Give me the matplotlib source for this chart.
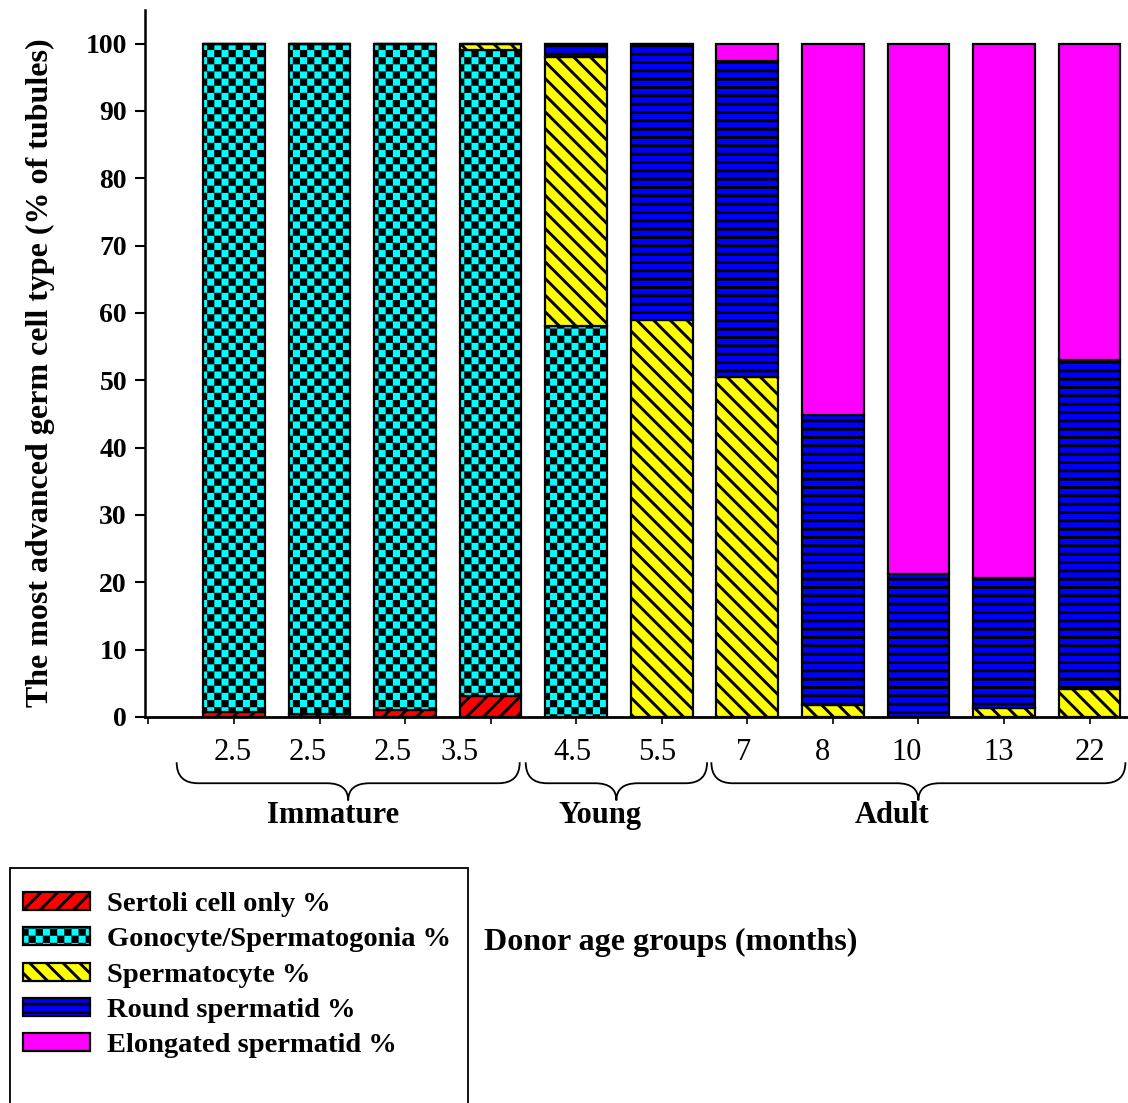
import warnings

import matplotlib
matplotlib.use("Agg")
import matplotlib.pyplot as plt
import numpy as np
from matplotlib import hatch as mhatch
from matplotlib.patches import PathPatch, Rectangle
from matplotlib.path import Path

warnings.filterwarnings("ignore")

# ---- data ----
ages = ["2.5", "2.5", "2.5", "3.5", "4.5", "5.5", "7", "8", "10", "13", "22"]
sertoli = [0.8, 0.5, 1.1, 3.1, 0, 0, 0, 0, 0, 0, 0]
gonocyte = [99.2, 99.5, 98.9, 96.0, 58.0, 0, 0, 0, 0, 0, 0]
spermatocyte = [0, 0, 0, 0.9, 40.0, 59.0, 50.5, 1.8, 0, 1.4, 4.1]
round_spermatid = [0, 0, 0, 0, 2.0, 41.0, 47.0, 43.1, 21.2, 19.3, 48.9]
elongated = [0, 0, 0, 0, 0, 0, 2.5, 55.1, 78.8, 79.3, 47.0]

series_names = ["Sertoli cell only %", "Gonocyte/Spermatogonia %",
                "Spermatocyte %", "Round spermatid %", "Elongated spermatid %"]
groups = ["Immature", "Young", "Adult"]


# checkerboard hatch, matplotlib has none built in
class CheckerHatch(mhatch.HatchPatternBase):
    def __init__(self, hatch, density):
        self.n = hatch.count("#") * 14
        self.num_vertices = (self.n * self.n // 2) * 5 if self.n else 0

    def set_vertices_and_codes(self, vertices, codes):
        s = 1.0 / self.n
        inset = 0.014
        k = 0
        for i in range(self.n):
            for j in range(self.n):
                if (i + j) % 2:
                    continue
                x0, y0 = i * s + inset, j * s + inset
                x1, y1 = (i + 1) * s - inset, (j + 1) * s - inset
                vertices[k:k + 5] = [(x0, y0), (x1, y0), (x1, y1), (x0, y1), (x0, y0)]
                codes[k:k + 5] = [Path.MOVETO, Path.LINETO, Path.LINETO,
                                  Path.LINETO, Path.CLOSEPOLY]
                k += 5


mhatch._hatch_types.append(CheckerHatch)

plt.rcParams["font.family"] = ["Liberation Serif", "DejaVu Serif"]
plt.rcParams["hatch.linewidth"] = 2.1

fig = plt.figure(figsize=(11.28, 11.03), dpi=100)
W, H = 1128, 1103
ax = fig.add_axes([145 / W, 1 - 717 / H, 1 - 145 / W, (717 - 10) / H])

x = np.arange(1, len(ages) + 1)
layers = [sertoli, gonocyte, spermatocyte, round_spermatid, elongated]
colors = ["#FF0000", "#00FFFF", "#FFFF00", "#0000FF", "#FF00FF"]
hatches = ["//", "#", "\\\\", "--", ""]

bottom = np.zeros(len(ages))
handles = []
for vals, col, hat, name in zip(layers, colors, hatches, series_names):
    bars = ax.bar(x, vals, 0.72, bottom=bottom, color=col, edgecolor="black",
                  linewidth=1.6, hatch=hat, label=name)
    handles.append(bars)
    bottom += np.array(vals)

ax.set_xlim(-0.04, 11.45)
ax.set_ylim(0, 105)
ax.set_yticks(np.arange(0, 101, 10))
ax.set_xticks(np.arange(0, 12))
ax.set_xticklabels([])
for side in ["top", "right"]:
    ax.spines[side].set_visible(False)
ax.spines["left"].set_linewidth(1.8)
ax.spines["bottom"].set_linewidth(2.0)
ax.tick_params(axis="y", length=7, width=1.5, pad=6, labelsize=20)
ax.tick_params(axis="x", length=5, width=1.2)
for lab in ax.get_yticklabels():
    lab.set_fontweight("bold")

# age labels under the bars
label_shift = [-0.02, -0.14, -0.14, -0.36, -0.04, -0.05, -0.04, -0.12, -0.14, -0.06, 0.01]
for xi, age, dx in zip(x, ages, label_shift):
    ax.text(xi + dx, -0.05, age, transform=ax.get_xaxis_transform(),
            ha="center", va="center", fontsize=22)


def brace(x0, x1, y_top, y_tip, r=0.25):
    xm = (x0 + x1) / 2
    yf = y_top + (y_tip - y_top) * 0.55
    verts = [(x0, y_top), (x0, yf), (x0 + r, yf), (xm - r, yf), (xm, yf), (xm, y_tip),
             (xm, yf), (xm + r, yf), (x1 - r, yf), (x1, yf), (x1, y_top)]
    codes = [Path.MOVETO, Path.CURVE3, Path.CURVE3, Path.LINETO, Path.CURVE3, Path.CURVE3,
             Path.CURVE3, Path.CURVE3, Path.LINETO, Path.CURVE3, Path.CURVE3]
    ax.add_patch(PathPatch(Path(verts, codes), fill=False, lw=1.3, color="black",
                           transform=ax.get_xaxis_transform(), clip_on=False))


brace_spans = [(0.33, 4.34), (4.41, 6.53), (6.58, 11.42)]
group_label_x = [2.16, 5.28, 8.69]
for (b0, b1), name, gx in zip(brace_spans, groups, group_label_x):
    brace(b0, b1, -0.064, -0.118)
    ax.text(gx, -0.139, name, transform=ax.get_xaxis_transform(),
            ha="center", va="center", fontsize=22, fontweight="bold")

fig.text(40 / W, 1 - 373 / H, "The most advanced germ cell type (% of tubules)",
         rotation=90, ha="center", va="center", fontsize=23, fontweight="bold")
fig.text(671 / W, 1 - 942 / H, "Donor age groups (months)",
         ha="center", va="center", fontsize=23, fontweight="bold")

# legend box runs past the bottom of the figure
fig.patches.append(Rectangle((10 / W, -0.05), (468 - 10) / W, 1 - 868 / H + 0.05,
                             transform=fig.transFigure, fill=False, lw=1.3,
                             edgecolor="black"))
fig.legend(handles=handles, loc="upper left", bbox_to_anchor=(23 / W, 1 - 892 / H),
           frameon=False, borderpad=0, borderaxespad=0, handlelength=2.35,
           handleheight=0.6, handletextpad=0.6, labelspacing=0.36,
           prop={"size": 20.5, "weight": "bold"})

fig.savefig("out.png", dpi=100)
